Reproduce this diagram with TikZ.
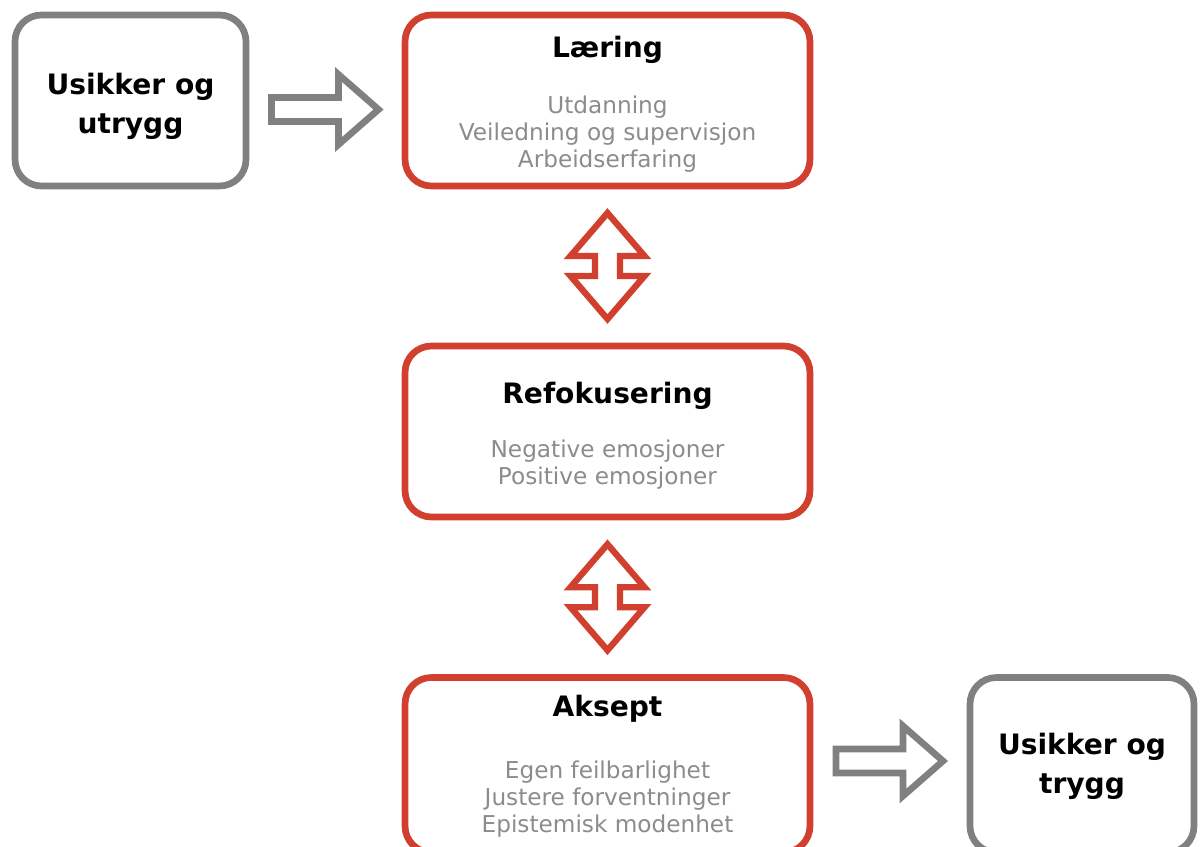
\documentclass[tikz,border=0pt]{standalone}
\usepackage{fontspec}
\setmainfont{DejaVu Sans}
\usetikzlibrary{calc}

\definecolor{kantrod}{RGB}{209,63,47}
\definecolor{kantgraa}{RGB}{128,128,128}
\definecolor{tekstgraa}{RGB}{140,140,140}

\tikzset{
	rodboks/.style={draw=kantrod, line width=3.8pt, rounded corners=15pt, fill=white,
		minimum width=8.1cm, minimum height=3.42cm},
	graaboks/.style={draw=kantgraa, line width=3.8pt, rounded corners=15pt, fill=white,
		minimum width=4.62cm, minimum height=3.42cm},
	tittel/.style={font=\fontsize{16}{22.2}\selectfont\bfseries, text=black, align=center, inner sep=0pt},
	punkter/.style={font=\fontsize{13.2}{15.4}\selectfont, text=tekstgraa, align=center, inner sep=0pt},
	graapil/.style={draw=kantgraa, line width=3.8pt, fill=white},
	rodpil/.style={draw=kantrod, line width=3.6pt, fill=white},
}

\begin{document}
\begin{tikzpicture}[x=0.02cm, y=-0.02cm]
	
	% Ramme for hele bildet
	\useasboundingbox (0,0) rectangle (1201,847);
	
	% Bokser
	\node[graaboks] (usikker) at (130.5,100.5) {};
	\node[rodboks] (laering) at (607.5,100.5) {};
	\node[rodboks] (refokus) at (607.5,431.5) {};
	\node[rodboks, minimum height=3.5cm] (aksept) at (607.5,765) {};
	\node[graaboks, minimum width=4.48cm, minimum height=3.5cm] (trygg) at (1082,765) {};
	
	% Tekst i de grå boksene
	\node[tittel] (usikkertekst) at (130.5,106) {Usikker og\\utrygg};
	\node[tittel] (tryggtekst) at (1082,766) {Usikker og\\trygg};
	
	% Læring
	\node[tittel] (laeringtittel) at (607.5,50) {Læring};
	\node[punkter] (laeringpunkter) at (607.5,134)
	{Utdanning\\Veiledning og supervisjon\\Arbeidserfaring};
	
	% Refokusering
	\node[tittel] (refokustittel) at (607.5,396) {Refokusering};
	\node[punkter] (refokuspunkter) at (607.5,465)
	{Negative emosjoner\\Positive emosjoner};
	
	% Aksept
	\node[tittel] (aksepttittel) at (607.5,709) {Aksept};
	\node[punkter] (akseptpunkter) at (607.5,799)
	{Egen feilbarlighet\\Justere forventninger\\Epistemisk modenhet};
	
	% Grå pil inn mot Læring
	\begin{scope}[shift={($(usikker.east)!0.5!(laering.west)+(0,9)$)}]
		\draw[graapil] (-54,-12) -- (13,-12) -- (13,-35) -- (53,0)
		-- (13,35) -- (13,12) -- (-54,12) -- cycle;
	\end{scope}
	
	% Rød dobbeltpil Læring -- Refokusering
	\begin{scope}[shift={($(laering.south)!0.5!(refokus.north)$)}]
		\draw[rodpil] (0,-53) -- (37,-10) -- (12.5,-10) -- (12.5,10) -- (37,10)
		-- (0,53) -- (-37,10) -- (-12.5,10) -- (-12.5,-10) -- (-37,-10) -- cycle;
	\end{scope}
	
	% Rød dobbeltpil Refokusering -- Aksept
	\begin{scope}[shift={($(refokus.south)!0.5!(aksept.north)$)}]
		\draw[rodpil] (0,-53) -- (37,-10) -- (12.5,-10) -- (12.5,10) -- (37,10)
		-- (0,53) -- (-37,10) -- (-12.5,10) -- (-12.5,-10) -- (-37,-10) -- cycle;
	\end{scope}
	
	% Grå pil ut mot trygg
	\begin{scope}[shift={($(aksept.east)!0.5!(trygg.west)+(0,-4)$)}]
		\draw[graapil] (-54,-12) -- (13,-12) -- (13,-35) -- (53,0)
		-- (13,35) -- (13,12) -- (-54,12) -- cycle;
	\end{scope}
	
\end{tikzpicture}
\end{document}
